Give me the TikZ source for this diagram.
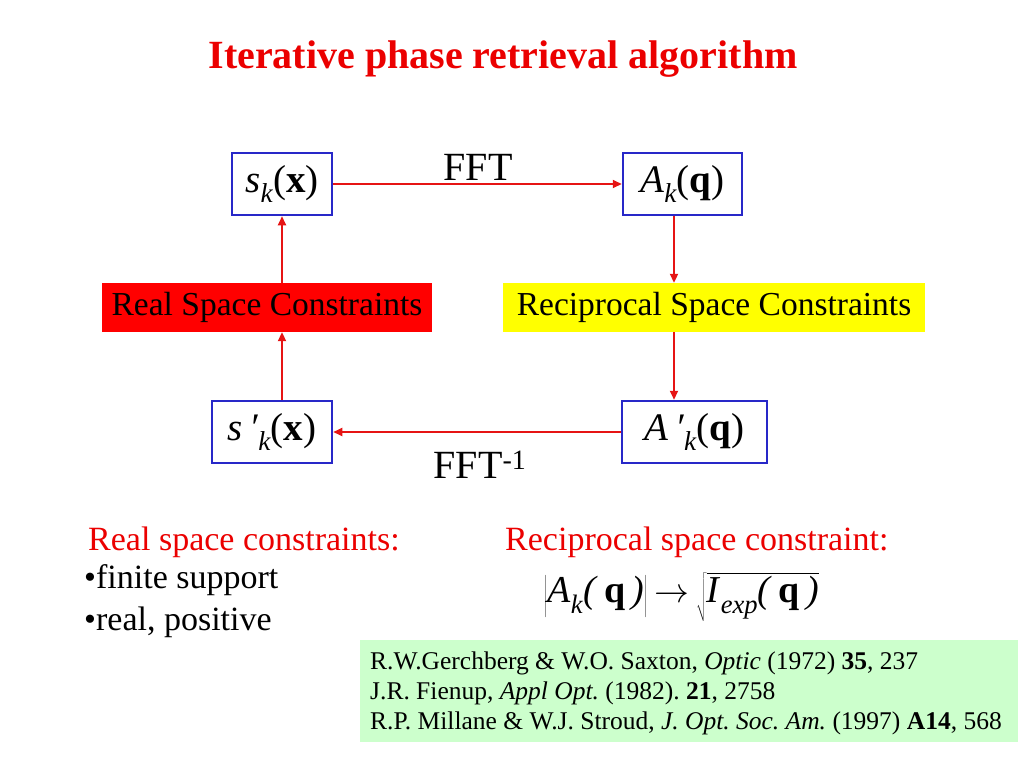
\documentclass[tikz,border=0pt]{standalone}
\usepackage{fontspec}
\setmainfont{Liberation Serif}
\usetikzlibrary{arrows.meta}
\definecolor{boxblue}{RGB}{40,40,200}
\definecolor{arrred}{RGB}{230,20,20}
\definecolor{ttlred}{RGB}{235,0,0}
\definecolor{refgreen}{RGB}{204,255,204}
\definecolor{ylw}{RGB}{255,255,0}
\newcommand{\mysub}[1]{\raisebox{-0.28em}{\scalebox{0.7}{\textit{#1}}}}
\begin{document}
\frenchspacing
\begin{tikzpicture}[x=1pt,y=-1pt,
  vbox/.style={draw=boxblue,line width=2.5pt,fill=white,inner sep=0pt,font=\fontsize{39}{44}\selectfont},
  cbox/.style={inner sep=0pt,font=\fontsize{33.5}{36}\selectfont},
  conn/.style={draw=arrred,line width=2pt,-{Triangle[length=9pt,width=8pt]}},
  lbl/.style={font=\fontsize{40}{44}\selectfont}]
\useasboundingbox (0,0) rectangle (1024,768);
\node[font=\bfseries\fontsize{40}{44}\selectfont,text=ttlred] (title) at (503,59) {Iterative phase retrieval algorithm};
\node[vbox,minimum width=100pt,minimum height=62pt] (s) at (282,184) {\textit{s}\mysub{k}(\textbf{x})};
\node[vbox,minimum width=119pt,minimum height=62pt] (A) at (682.5,184) {\textit{A}\mysub{k}(\textbf{q})};
\node[cbox,fill=red,minimum width=330pt,minimum height=49pt] (rsc) at (267,307.5) {Real Space Constraints};
\node[cbox,fill=ylw,minimum width=422pt,minimum height=49pt] (ksc) at (714,307.5) {Reciprocal Space Constraints};
\node[vbox,minimum width=120pt,minimum height=62pt] (sp) at (272,432) {\textit{s}\,\textit{′}\mysub{k}(\textbf{x})};
\node[vbox,minimum width=145pt,minimum height=62pt] (Ap) at (694.5,432) {\textit{A}\,\textit{′}\mysub{k}(\textbf{q})};
\draw[conn] (s.east) -- (A.west);
\node[lbl] (fft) at (478,167) {FFT};
\draw[conn] (A.south -| 674,0) -- (ksc.north -| 674,0);
\draw[conn] (ksc.south -| 674,0) -- (Ap.north -| 674,0);
\draw[conn] (Ap.west) -- (sp.east);
\node[lbl] (ifft) at (480,465) {FFT\textsuperscript{-1}};
\draw[conn] (sp.north -| 282,0) -- (rsc.south -| 282,0);
\draw[conn] (rsc.north -| 282,0) -- (s.south -| 282,0);
\node[font=\fontsize{34}{38}\selectfont,text=ttlred,anchor=west,inner sep=0pt] (rl) at (88,542) {Real space constraints:};
\node[font=\fontsize{34}{38}\selectfont,anchor=west,inner sep=0pt] (r1) at (84,580) {•finite support};
\node[font=\fontsize{34}{38}\selectfont,anchor=west,inner sep=0pt] (r2) at (84,622) {•real, positive};
\node[font=\fontsize{34}{38}\selectfont,text=ttlred,anchor=west,inner sep=0pt] (kl) at (505,542) {Reciprocal space constraint:};
\node[font=\fontsize{38}{44}\selectfont,anchor=west,inner sep=0pt] (form) at (544,597) {$\left|\vphantom{\Big|}\mbox{\textit{A}\mysub{k}\textit{(}\,\textbf{q}\,\textit{)}}\right|\mathrel{\scalebox{1.4}{$\rightarrow$}}\sqrt{\vphantom{\Big|}\mbox{\textit{I}\mysub{exp}\textit{(}\,\textbf{q}\,\textit{)}}}$};
\node[fill=refgreen,minimum width=658pt,minimum height=102pt,inner sep=0pt] (refbox) at (689,691) {};
\node[anchor=west,align=left,font=\fontsize{25.5}{30}\selectfont,inner sep=0pt] (refs) at (370,693) {R.W.Gerchberg \& W.O. Saxton, \textit{Optic} (1972) \textbf{35}, 237\\
J.R. Fienup, \textit{Appl Opt.} (1982). \textbf{21}, 2758\\
R.P. Millane \& W.J. Stroud, \textit{J. Opt. Soc. Am.} (1997) \textbf{A14}, 568};
\end{tikzpicture}
\end{document}
